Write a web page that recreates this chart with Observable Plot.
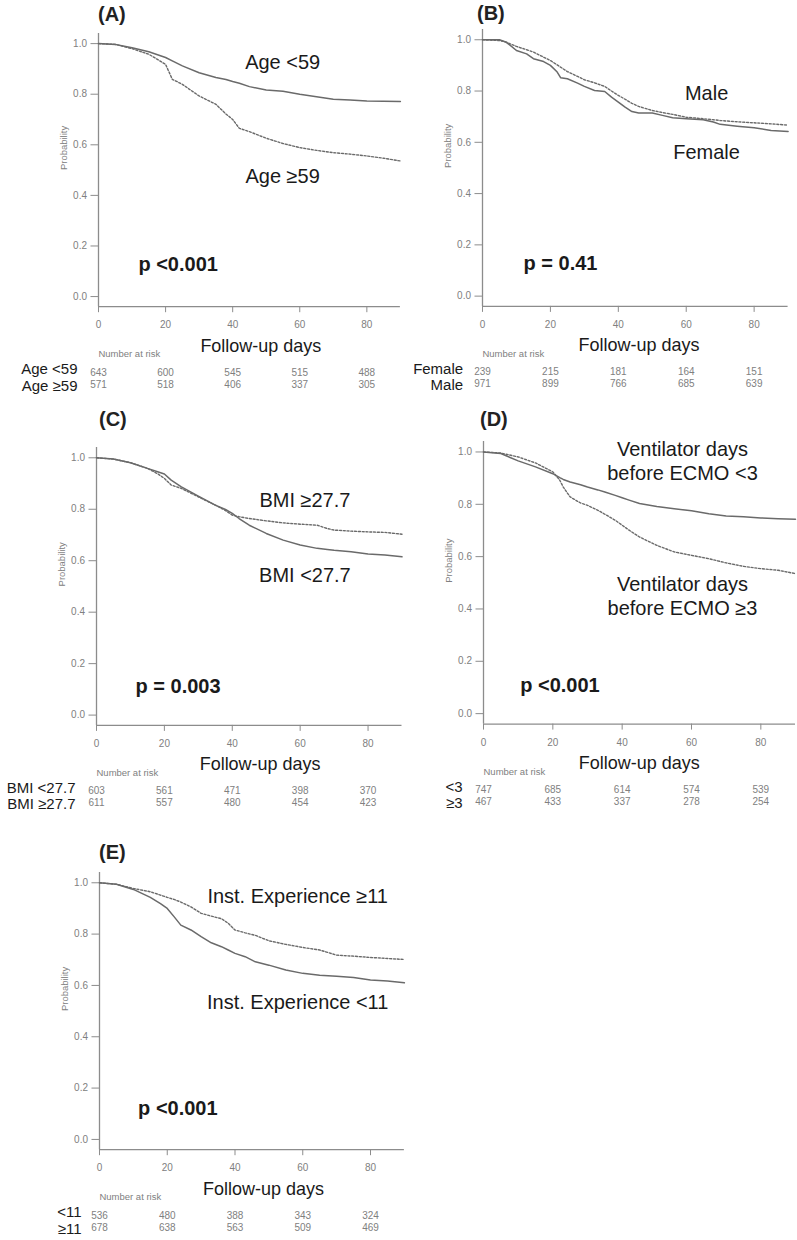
<!DOCTYPE html>
<html>
<head>
<meta charset="utf-8">
<script src="https://cdn.jsdelivr.net/npm/d3@7"></script>
<script src="https://cdn.jsdelivr.net/npm/@observablehq/plot@0.6"></script>
<style>
  html, body { margin: 0; padding: 0; background: #fff; }
  #root { position: relative; width: 797px; height: 1240px; overflow: hidden; background: #fff;
          font-family: "Liberation Sans", Arial, sans-serif; }
  .ptitle { position: absolute; font: bold 20px/20px "Liberation Sans", Arial, sans-serif; color: #222; z-index: 2; }
  #root svg { position: absolute; }
</style>
</head>
<body>
<div id="root"></div>
<script>
// ---------- shared ticks ----------
const xTicks = [0, 20, 40, 60, 80];
const yTicks = [0, 0.2, 0.4, 0.6, 0.8, 1.0];
const riskDays = [0, 20, 40, 60, 80];

// ---------- (A) Age ----------
const ageDays = [0,5,10,15,20,22,25,30,35,38,40,42,45,50,55,60,65,70,75,80,85,90];
const ageUnder59 = [1.0,0.997,0.984,0.968,0.945,0.932,0.912,0.885,0.866,0.858,0.850,0.843,0.830,0.817,0.812,0.800,0.790,0.780,0.777,0.773,0.772,0.771];
const ageOver59 = [1.0,0.997,0.980,0.958,0.918,0.859,0.839,0.793,0.760,0.722,0.700,0.665,0.652,0.626,0.605,0.589,0.578,0.569,0.563,0.556,0.547,0.536];
const ageRiskUnder59 = [643, 600, 545, 515, 488];
const ageRiskOver59 = [571, 518, 406, 337, 305];

// ---------- (B) Sex ----------
const sexDays = [0,5,7,8,10,13,15,18,20,22,23,25,28,30,33,36,38,40,42,44,46,50,53,56,60,65,68,70,75,80,85,90];
const sexFemale = [1.0,1.0,0.99,0.98,0.958,0.945,0.926,0.915,0.900,0.874,0.852,0.848,0.831,0.818,0.802,0.798,0.776,0.757,0.737,0.720,0.714,0.714,0.705,0.696,0.692,0.688,0.679,0.670,0.663,0.657,0.646,0.642];
const sexMale = [1.0,0.997,0.991,0.985,0.974,0.961,0.952,0.932,0.919,0.902,0.893,0.876,0.857,0.844,0.832,0.818,0.800,0.783,0.768,0.752,0.740,0.724,0.716,0.709,0.698,0.692,0.688,0.685,0.680,0.676,0.672,0.667];
const sexRiskFemale = [239, 215, 181, 164, 151];
const sexRiskMale = [971, 899, 766, 685, 639];

// ---------- (C) BMI ----------
const bmiDays = [0,5,10,15,18,20,22,25,30,35,38,40,42,45,50,55,60,65,68,70,75,80,85,90];
const bmiUnder = [1.0,0.995,0.981,0.959,0.946,0.937,0.913,0.887,0.851,0.816,0.799,0.784,0.764,0.738,0.706,0.680,0.661,0.648,0.644,0.641,0.635,0.626,0.622,0.615];
const bmiOver = [1.0,0.995,0.981,0.959,0.938,0.920,0.894,0.881,0.848,0.816,0.795,0.777,0.771,0.764,0.755,0.747,0.742,0.738,0.725,0.719,0.715,0.712,0.710,0.703];
const bmiRiskUnder = [603, 561, 471, 398, 370];
const bmiRiskOver = [611, 557, 480, 454, 423];

// ---------- (D) Ventilator days before ECMO ----------
const ventDays = [0,5,10,15,20,22,23,25,28,30,33,35,38,40,42,45,50,55,60,65,70,75,80,85,90];
const ventUnder3 = [1.0,0.994,0.966,0.943,0.917,0.902,0.895,0.885,0.875,0.866,0.855,0.847,0.834,0.825,0.816,0.803,0.792,0.783,0.775,0.764,0.755,0.752,0.748,0.745,0.743];
const ventOver3 = [1.0,0.996,0.981,0.958,0.924,0.892,0.866,0.828,0.805,0.796,0.777,0.762,0.739,0.720,0.701,0.675,0.643,0.618,0.605,0.592,0.576,0.563,0.554,0.548,0.535];
const ventRiskUnder3 = [747, 685, 614, 574, 539];
const ventRiskOver3 = [467, 433, 337, 278, 254];

// ---------- (E) Institutional experience ----------
const instDays = [0,5,10,15,18,20,22,24,27,30,33,36,38,40,43,46,50,55,60,65,70,75,80,85,90];
const instUnder11 = [1.0,0.994,0.974,0.943,0.919,0.900,0.868,0.835,0.816,0.790,0.766,0.751,0.738,0.725,0.712,0.692,0.679,0.660,0.647,0.640,0.636,0.631,0.621,0.617,0.610];
const instOver11 = [1.0,0.994,0.978,0.965,0.952,0.943,0.935,0.925,0.906,0.881,0.870,0.860,0.842,0.816,0.805,0.795,0.774,0.760,0.748,0.738,0.718,0.714,0.709,0.705,0.701];
const instRiskUnder11 = [536, 480, 388, 343, 324];
const instRiskOver11 = [678, 638, 563, 509, 469];

// ---------- panel definitions (text + data links) ----------
const panels = [
  { title: "(A)", days: ageDays, solid: ageUnder59, dotted: ageOver59,
    risk1: ageRiskUnder59, risk2: ageRiskOver59, row1: "Age <59", row2: "Age ≥59",
    lab1: "Age <59", lab2: "Age ≥59", p: "p <0.001" },
  { title: "(B)", days: sexDays, solid: sexFemale, dotted: sexMale,
    risk1: sexRiskFemale, risk2: sexRiskMale, row1: "Female", row2: "Male",
    lab1: "Male", lab2: "Female", p: "p = 0.41" },
  { title: "(C)", days: bmiDays, solid: bmiUnder, dotted: bmiOver,
    risk1: bmiRiskUnder, risk2: bmiRiskOver, row1: "BMI <27.7", row2: "BMI ≥27.7",
    lab1: "BMI ≥27.7", lab2: "BMI <27.7", p: "p = 0.003" },
  { title: "(D)", days: ventDays, solid: ventUnder3, dotted: ventOver3,
    risk1: ventRiskUnder3, risk2: ventRiskOver3, row1: "<3", row2: "≥3",
    lab1: "Ventilator days\nbefore ECMO <3", lab2: "Ventilator days\nbefore ECMO ≥3", p: "p <0.001" },
  { title: "(E)", days: instDays, solid: instUnder11, dotted: instOver11,
    risk1: instRiskUnder11, risk2: instRiskOver11, row1: "<11", row2: "≥11",
    lab1: "Inst. Experience ≥11", lab2: "Inst. Experience <11", p: "p <0.001" }
];

// ---------- layout (pixel frame + annotation anchors) ----------
const layouts = [
  { x0: 97.7, x90: 399.6, top: 32.6, bottom: 305.8, tx: 98, tb: 20.7,
    labX: 54.9, lab1Y: 0.899, lab2Y: 0.45, pX: 11.9, pY: 0.10, fuX: 48.4, rowDx: -21 },
  { x0: 481.7, x90: 787.3, top: 29.0, bottom: 305.9, tx: 477, tb: 19.5,
    labX: 66.0, lab1Y: 0.766, lab2Y: 0.533, pX: 12.1, pY: 0.103, fuX: 46.1, rowDx: -19.4 },
  { x0: 96, x90: 401.5, top: 447.4, bottom: 725.3, tx: 99, tb: 425.5,
    labX: 61.4, lab1Y: 0.807, lab2Y: 0.516, pX: 11.5, pY: 0.087, fuX: 48.2, rowDx: -21 },
  { x0: 482.7, x90: 794.7, top: 441.2, bottom: 723.8, tx: 480, tb: 425.5,
    labX: 57.4, lab1Y: 0.892, lab2Y: 0.378, pX: 10.6, pY: 0.083, fuX: 44.9, rowDx: -21 },
  { x0: 99, x90: 403.9, top: 872.4, bottom: 1149.6, tx: 99, tb: 859,
    labX: 58.5, lab1Y: 0.92, lab2Y: 0.507, pX: 11.4, pY: 0.095, fuX: 48.4, rowDx: -18 }
];

const root = document.getElementById("root");
const axisColor = "#8c8c8c";
const tickText = "#808080";
const curveColor = "#6a6a6a";
const FONT = "'Liberation Sans', Arial, sans-serif";

panels.forEach((p, k) => {
  const L = layouts[k];
  const ML = 95, MR = 2, MT = 12, MB = 92;
  const plotW = L.x90 - L.x0, plotH = L.bottom - L.top;
  const solidData = p.days.map((d, i) => ({d, s: p.solid[i]}));
  const dottedData = p.days.map((d, i) => ({d, s: p.dotted[i]}));
  const risk1Data = riskDays.map((t, i) => ({t, n: p.risk1[i]}));
  const risk2Data = riskDays.map((t, i) => ({t, n: p.risk2[i]}));

  const chart = Plot.plot({
    width: ML + plotW + MR,
    height: MT + plotH + MB,
    marginLeft: ML, marginRight: MR, marginTop: MT, marginBottom: MB,
    x: {domain: [0, 90]},
    y: {domain: [-0.04, 1.04]},
    style: {fontFamily: FONT, fontSize: "10px", background: "transparent", overflow: "visible"},
    marks: [
      Plot.ruleX([0], {stroke: axisColor, strokeWidth: 1.3}),
      Plot.ruleY([-0.04], {stroke: axisColor, strokeWidth: 1.3}),
      Plot.axisY({ticks: yTicks, tickFormat: ".1f", tickSize: 7.5, tickPadding: 4,
                  fontSize: 10, stroke: axisColor, fill: tickText, label: null}),
      Plot.axisX({ticks: xTicks, tickSize: 6, tickPadding: 8.5,
                  fontSize: 10, stroke: axisColor, fill: tickText, label: null}),
      Plot.line(solidData, {x: "d", y: "s", stroke: curveColor, strokeWidth: 1.5}),
      Plot.line(dottedData, {x: "d", y: "s", stroke: curveColor, strokeWidth: 1.4, strokeDasharray: "2,1.8"}),
      // y-axis title
      Plot.text(["Probability"], {text: d => d, frameAnchor: "left", rotate: -90, dx: -35,
                  lineAnchor: "middle", fontSize: 9.5, fill: tickText}),
      // curve labels
      Plot.text([{x: L.labX, y: L.lab1Y, t: p.lab1}], {x: "x", y: "y", text: "t",
                  textAnchor: "middle", lineAnchor: "bottom", lineHeight: 1.2, fontSize: 20, fill: "#1a1a1a"}),
      Plot.text([{x: L.labX, y: L.lab2Y, t: p.lab2}], {x: "x", y: "y", text: "t",
                  textAnchor: "middle", lineAnchor: "bottom", lineHeight: 1.2, fontSize: 20, fill: "#1a1a1a"}),
      // p value
      Plot.text([{x: L.pX, y: L.pY, t: p.p}], {x: "x", y: "y", text: "t",
                  textAnchor: "start", lineAnchor: "bottom", fontSize: 20, fontWeight: "bold", fill: "#1a1a1a"}),
      // x-axis title
      Plot.text([{x: L.fuX, t: "Follow-up days"}], {x: "x", text: "t", frameAnchor: "bottom", dy: 45,
                  textAnchor: "middle", lineAnchor: "bottom", fontSize: 18, fill: "#1a1a1a"}),
      // number at risk table
      Plot.text(["Number at risk"], {text: d => d, frameAnchor: "bottom-left", dy: 50.5,
                  textAnchor: "start", lineAnchor: "bottom", fontSize: 9.5, fill: tickText}),
      Plot.text(risk1Data, {x: "t", text: "n", frameAnchor: "bottom", dy: 69,
                  textAnchor: "middle", lineAnchor: "bottom", fontSize: 10, fill: tickText}),
      Plot.text(risk2Data, {x: "t", text: "n", frameAnchor: "bottom", dy: 81,
                  textAnchor: "middle", lineAnchor: "bottom", fontSize: 10, fill: tickText}),
      Plot.text([p.row1], {text: d => d, frameAnchor: "bottom-left", dx: L.rowDx, dy: 67.5,
                  textAnchor: "end", lineAnchor: "bottom", fontSize: 15, fill: "#1a1a1a"}),
      Plot.text([p.row2], {text: d => d, frameAnchor: "bottom-left", dx: L.rowDx, dy: 84,
                  textAnchor: "end", lineAnchor: "bottom", fontSize: 15, fill: "#1a1a1a"})
    ]
  });
  chart.style.left = (L.x0 - ML) + "px";
  chart.style.top = (L.top - MT) + "px";
  root.appendChild(chart);

  const t = document.createElement("div");
  t.className = "ptitle";
  t.textContent = p.title;
  t.style.left = L.tx + "px";
  t.style.top = (L.tb - 17) + "px";
  root.appendChild(t);
});
</script>
</body>
</html>
